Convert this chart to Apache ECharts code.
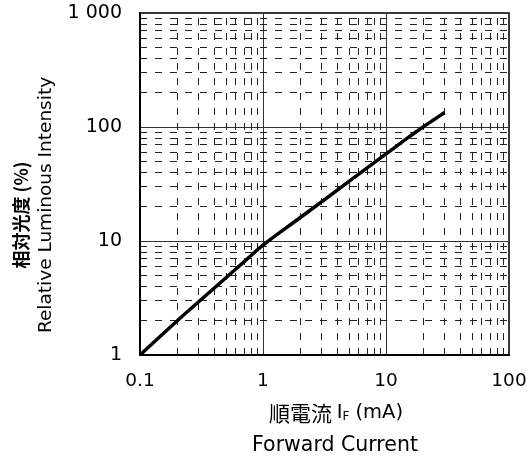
<!DOCTYPE html>
<html>
<head>
<meta charset="utf-8">
<script src="https://cdn.jsdelivr.net/npm/echarts@6/dist/echarts.min.js"></script>
<style>
  html, body { margin: 0; padding: 0; background: #fff; }
  #chart { width: 530px; height: 468px; }
</style>
</head>
<body>
<div id="chart"></div>
<script>
// Forward current (mA) vs. relative luminous intensity (%)
const currentMA = [0.1, 0.2, 0.3, 0.5, 0.7, 1, 2, 3, 5, 10, 15, 20, 25, 30];
const intensityPct = [1, 1.99, 2.93, 4.76, 6.56, 9.2, 16, 22.1, 33.3, 58, 80.2, 100, 117.5, 134];

// Minor grid positions inside each decade
const xMinor = [0.2, 0.3, 0.4, 0.5, 0.6, 0.7, 0.8, 0.9,
                2, 3, 4, 5, 6, 7, 8, 9,
                20, 30, 40, 50, 60, 70, 80, 90];
const yMinor = [2, 3, 4, 5, 6, 7, 8, 9,
                20, 30, 40, 50, 60, 70, 80, 90,
                200, 300, 400, 500, 600, 700, 800, 900];

const LATIN = '"DejaVu Sans", "Noto Sans", sans-serif';
const CJK = '"Noto Sans CJK JP", "Noto Sans", sans-serif';

const chart = echarts.init(document.getElementById('chart'), null, { renderer: 'canvas' });

const tidy = v => parseFloat(Number(v).toPrecision(3));

chart.setOption({
  animation: false,
  backgroundColor: '#fff',
  grid: {
    left: 140, right: 21, top: 13, bottom: 113,
    show: true, borderColor: '#000', borderWidth: 1.5
  },
  xAxis: {
    type: 'log', logBase: 10, min: 0.1, max: 100,
    axisLine: { show: true, lineStyle: { color: '#000', width: 2 } },
    axisTick: { show: false },
    splitLine: { show: true, lineStyle: { color: '#333', width: 1 } },
    axisLabel: {
      color: '#000', fontFamily: LATIN, fontSize: 18.5, margin: 17,
      formatter: v => String(tidy(v))
    }
  },
  yAxis: {
    type: 'log', logBase: 10, min: 1, max: 1000,
    axisLine: { show: true, lineStyle: { color: '#000', width: 2 } },
    axisTick: { show: false },
    splitLine: { show: true, lineStyle: { color: '#333', width: 1 } },
    axisLabel: {
      color: '#000', fontFamily: LATIN, fontSize: 19, margin: 18,
      padding: [5, 0, 0, 0],
      formatter: v => {
        const n = tidy(v);
        return n === 1000 ? '1 000' : String(n);
      }
    }
  },
  series: [
    {
      // dashed minor grid, placed through the axis scales
      type: 'line',
      data: [],
      silent: true,
      markLine: {
        silent: true,
        symbol: ['none', 'none'],
        label: { show: false },
        lineStyle: { color: '#222', width: 1, type: [7, 8] },
        data: xMinor.map(v => ({ xAxis: v })).concat(yMinor.map(v => ({ yAxis: v })))
      }
    },
    {
      type: 'line',
      data: currentMA.map((x, i) => [x, intensityPct[i]]),
      smooth: 0.4,
      symbol: 'none',
      lineStyle: { color: '#000', width: 3.5 },
      z: 5
    }
  ],
  graphic: [
    {
      type: 'text',
      style: {
        x: 336, y: 413, text: '{c|順電流 }{t|I}{s|F}{t| (mA)}',
        align: 'center', verticalAlign: 'middle',
        rich: {
          c: { fontFamily: CJK, fontSize: 21, fill: '#000' },
          t: { fontFamily: LATIN, fontSize: 19.5, fill: '#000' },
          s: { fontFamily: LATIN, fontSize: 12, fill: '#000', padding: [7, 0, 0, 0] }
        }
      }
    },
    {
      type: 'text',
      style: {
        x: 335, y: 446, text: 'Forward Current',
        fontFamily: LATIN, fontSize: 20.5, fill: '#000',
        align: 'center', verticalAlign: 'middle'
      }
    },
    {
      type: 'text', x: 21, y: 215, rotation: Math.PI / 2,
      style: {
        x: 0, y: 0, text: '相対光度 (%)',
        fontFamily: CJK, fontSize: 18, fontWeight: 'bold', fill: '#000',
        align: 'center', verticalAlign: 'middle'
      }
    },
    {
      type: 'text', x: 46, y: 205, rotation: Math.PI / 2,
      style: {
        x: 0, y: 0, text: 'Relative Luminous Intensity',
        fontFamily: LATIN, fontSize: 18.5, fill: '#000',
        align: 'center', verticalAlign: 'middle'
      }
    }
  ]
});
</script>
</body>
</html>
